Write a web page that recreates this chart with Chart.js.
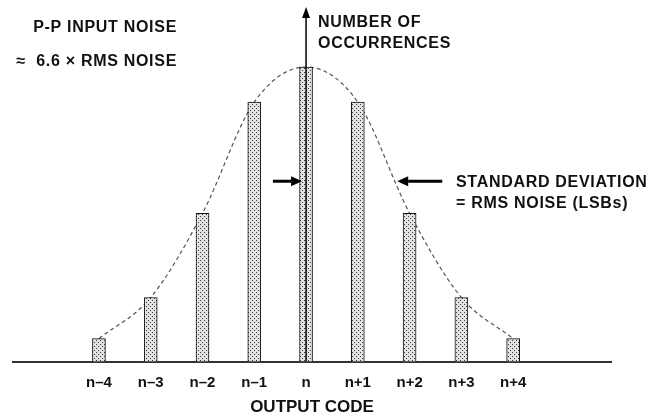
<!DOCTYPE html>
<html>
<head>
<meta charset="utf-8">
<script src="https://cdn.jsdelivr.net/npm/chart.js@4"></script>
<style>
  html, body { margin: 0; padding: 0; background: #fff; }
  #wrap { width: 652px; height: 418px; }
</style>
</head>
<body>
<div id="wrap"><canvas id="grafikNoise"></canvas></div>
<script>
// =====================================================
// DATA
// =====================================================
const codes = [-4, -3, -2, -1, 0, 1, 2, 3, 4];
const codeLabels = ['n–4', 'n–3', 'n–2', 'n–1', 'n', 'n+1', 'n+2', 'n+3', 'n+4'];
const occurrences = [23, 64, 148, 259, 294, 259, 148, 64, 23];

const FONT = '"Liberation Sans", Arial, sans-serif';

// =====================================================
// POLA TITIK UNTUK BATANG
// =====================================================
function buatPola() {
    const c = document.createElement('canvas');
    c.width = 4;
    c.height = 4;
    const g = c.getContext('2d');
    g.fillStyle = '#e2e2e2';
    g.fillRect(0, 0, 4, 4);
    g.fillStyle = '#3a3a3a';
    g.fillRect(0, 0, 1, 1);
    g.fillRect(2, 2, 1, 1);
    return g.createPattern(c, 'repeat');
}

// =====================================================
// ANOTASI: PANAH & TEKS
// =====================================================
function panah(ctx, x1, y1, x2, y2, lebar, kepala, sayap) {
    const ang = Math.atan2(y2 - y1, x2 - x1);
    const bx = x2 - Math.cos(ang) * kepala;
    const by = y2 - Math.sin(ang) * kepala;
    ctx.beginPath();
    ctx.moveTo(x1, y1);
    ctx.lineTo(bx, by);
    ctx.lineWidth = lebar;
    ctx.strokeStyle = '#000';
    ctx.stroke();
    ctx.beginPath();
    ctx.moveTo(x2, y2);
    ctx.lineTo(bx + Math.sin(ang) * sayap, by - Math.cos(ang) * sayap);
    ctx.lineTo(bx - Math.sin(ang) * sayap, by + Math.cos(ang) * sayap);
    ctx.closePath();
    ctx.fillStyle = '#000';
    ctx.fill();
}

const anotasi = {
    id: 'anotasi',
    afterDatasetsDraw(chart) {
        const ctx = chart.ctx;
        const x = chart.scales.x;
        const y = chart.scales.y;
        const x0 = x.getPixelForValue(0);
        const yBase = y.getPixelForValue(0);

        ctx.save();
        // sumbu vertikal (jumlah kemunculan)
        panah(ctx, x0, yBase, x0, 7, 1.5, 11, 4);

        // panah deviasi standar
        const yStd = y.getPixelForValue(180);
        panah(ctx, x.getPixelForValue(-0.64), yStd, x0 - 4, yStd, 3, 11, 5);
        panah(ctx, x.getPixelForValue(2.63), yStd, x.getPixelForValue(1.76), yStd, 3, 11, 5);

        ctx.fillStyle = '#111';
        ctx.font = 'bold 16px ' + FONT;
        ctx.letterSpacing = '0.7px';
        ctx.textBaseline = 'middle';

        ctx.textAlign = 'right';
        ctx.fillText('P-P INPUT NOISE', 177, 28);
        ctx.fillText('≈  6.6 × RMS NOISE', 177, 62);

        ctx.textAlign = 'left';
        ctx.fillText('NUMBER OF', 318, 23);
        ctx.fillText('OCCURRENCES', 318, 44);
        ctx.fillText('STANDARD DEVIATION', 456, 183);
        ctx.fillText('= RMS NOISE (LSBs)', 456, 204);
        ctx.restore();
    }
};

// =====================================================
// GRAFIK
// =====================================================
const canvas = document.getElementById('grafikNoise');
const ctx = canvas.getContext('2d');
const pola = buatPola();

const titikData = codes.map((c, i) => ({ x: c, y: occurrences[i] }));

new Chart(ctx, {
    data: {
        datasets: [{
            type: 'bar',
            label: 'Occurrences',
            data: titikData,
            backgroundColor: pola,
            borderColor: '#111',
            borderWidth: 1,
            barThickness: 13,
            order: 1
        }, {
            type: 'line',
            label: 'Gaussian',
            data: titikData,
            borderColor: '#555',
            borderWidth: 1.2,
            borderDash: [4, 3],
            cubicInterpolationMode: 'monotone',
            pointRadius: 0,
            fill: false,
            order: 2
        }]
    },
    options: {
        responsive: true,
        maintainAspectRatio: false,
        animation: false,
        layout: {
            padding: { left: 13, right: 41, top: 61, bottom: 0 }
        },
        plugins: {
            legend: { display: false },
            tooltip: { enabled: false }
        },
        scales: {
            x: {
                type: 'linear',
                offset: false,
                min: -5.66,
                max: 5.89,
                afterBuildTicks(scale) {
                    scale.ticks = codes.map(v => ({ value: v }));
                },
                ticks: {
                    padding: 12,
                    color: '#111',
                    font: { family: FONT, size: 15, weight: 'bold' },
                    callback: (v) => codeLabels[codes.indexOf(v)] || ''
                },
                grid: { display: false, drawTicks: false },
                border: { display: true, color: '#333', width: 2 },
                title: {
                    display: true,
                    text: 'OUTPUT CODE',
                    color: '#111',
                    font: { family: FONT, size: 17, weight: 'bold' },
                    padding: { top: -6, bottom: 0 }
                }
            },
            y: {
                display: false,
                min: 0,
                max: 300
            }
        }
    },
    plugins: [anotasi]
});
</script>
</body>
</html>
